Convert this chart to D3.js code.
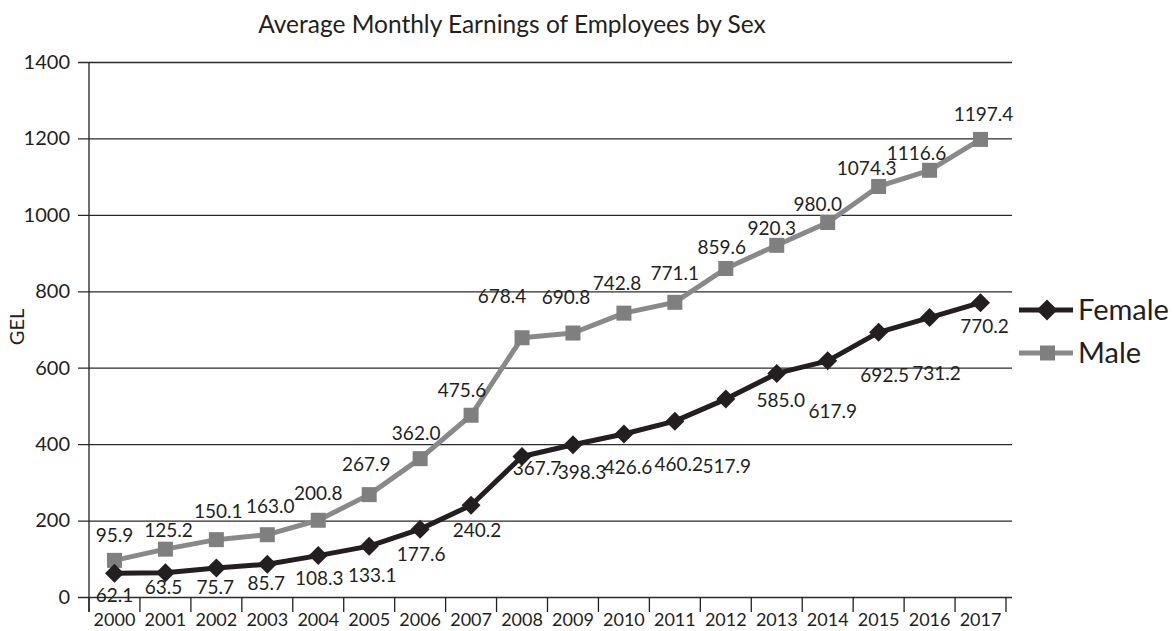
<!DOCTYPE html>
<html>
<head>
<meta charset="utf-8">
<script src="https://cdn.jsdelivr.net/npm/d3@7"></script>
<style>
  html, body { margin: 0; padding: 0; background: #fff; }
  svg text { font-family: Lato, "Open Sans", sans-serif; fill: #231f20; }
</style>
</head>
<body>
<svg id="chart" width="1174" height="631"></svg>
<script>
// Average monthly earnings (GEL), 2000–2017
const years = ["2000","2001","2002","2003","2004","2005","2006","2007","2008",
               "2009","2010","2011","2012","2013","2014","2015","2016","2017"];
const female = [62.1, 63.5, 75.7, 85.7, 108.3, 133.1, 177.6, 240.2, 367.7,
                398.3, 426.6, 460.2, 517.9, 585.0, 617.9, 692.5, 731.2, 770.2];
const male = [95.9, 125.2, 150.1, 163.0, 200.8, 267.9, 362.0, 475.6, 678.4,
              690.8, 742.8, 771.1, 859.6, 920.3, 980.0, 1074.3, 1116.6, 1197.4];
const yTicks = [0, 200, 400, 600, 800, 1000, 1200, 1400];
const seriesNames = ["Female", "Male"];
const titleText = "Average Monthly Earnings of Employees by Sex";
const yAxisTitle = "GEL";

// value-label nudges (px) relative to each marker
const femaleLabelShift = [[0,22],[-2,15],[-1,19],[-1,19],[1,23],[3,29],[1,25],[6,25],[15,12],
  [9,28],[4,33],[4,43],[1,67],[4,27],[5,50],[6,43],[7,56],[4,24]];
const maleLabelShift = [[0,-25],[3,-19],[2,-28],[3,-28],[0,-27],[-3,-30],[-4,-25],[-9,-25],[-20,-41],
  [-7,-36],[-7,-30],[0,-29],[-4,-21],[-5,-17],[-10,-18],[-12,-18],[-13,-17],[3,-25]];

const svg = d3.select("#chart");
const plotLeft = 89, plotRight = 1006, plotTop = 62, plotBottom = 597;
const gridEnd = 1012;

const x = d3.scaleBand().domain(years).range([plotLeft, plotRight]);
const y = d3.scaleLinear().domain([0, 1400]).range([plotBottom, plotTop]);
const cx = d => x(d) + x.bandwidth() / 2;

// square rotated 45°, r = half-diagonal
const diamondPath = r => `M0,${-r}L${r},0L0,${r}L${-r},0Z`;

// title
svg.append("text")
  .attr("x", 512).attr("y", 24).attr("dy", "0.35em")
  .attr("text-anchor", "middle")
  .style("font-size", "24.5px")
  .text(titleText);

// y axis + horizontal gridlines
const yAxis = svg.append("g")
  .attr("transform", `translate(${plotLeft},0)`)
  .call(d3.axisLeft(y).tickValues(yTicks).tickFormat(d3.format("d")).tickSizeOuter(0));
yAxis.select(".domain").remove();
yAxis.selectAll(".tick line")
  .attr("x1", -11).attr("x2", gridEnd - plotLeft)
  .attr("stroke", "#2b2b2b").attr("stroke-width", 1.3);
yAxis.selectAll(".tick text")
  .attr("x", -19)
  .style("font-size", "20px").style("font-family", "Lato, sans-serif")
  .attr("fill", "#231f20");

// vertical axis line
svg.append("line")
  .attr("x1", plotLeft).attr("x2", plotLeft)
  .attr("y1", y(1400)).attr("y2", plotBottom + 15)
  .attr("stroke", "#231f20").attr("stroke-width", 1.3);

// x axis labels
const xAxis = svg.append("g")
  .attr("transform", `translate(0,${plotBottom})`)
  .call(d3.axisBottom(x).tickSize(0).tickPadding(16));
xAxis.select(".domain").remove();
xAxis.selectAll(".tick text")
  .style("font-size", "18px").style("font-family", "Lato, sans-serif")
  .attr("fill", "#231f20");

// category boundary ticks
const bounds = years.map(d => x(d)).concat([x(years[years.length - 1]) + x.step()]);
svg.append("g").selectAll("line").data(bounds).join("line")
  .attr("x1", d => d).attr("x2", d => d)
  .attr("y1", plotBottom).attr("y2", plotBottom + 15)
  .attr("stroke", "#231f20").attr("stroke-width", 1.3);

// y axis title
svg.append("text")
  .attr("transform", "translate(17,327) rotate(-90)")
  .attr("text-anchor", "middle").attr("dy", "0.35em")
  .style("font-size", "20px")
  .text(yAxisTitle);

const line = d3.line().x((d, i) => cx(years[i])).y(d => y(d));

// Male series
svg.append("path").datum(male)
  .attr("d", line).attr("fill", "none")
  .attr("stroke", "#898989").attr("stroke-width", 5).attr("stroke-linejoin", "round");
svg.append("g").selectAll("rect").data(male).join("rect")
  .attr("x", (d, i) => cx(years[i]) - 7.5).attr("y", d => y(d) - 7.5)
  .attr("width", 15).attr("height", 15)
  .attr("fill", "#7f7f7f");

// Female series
svg.append("path").datum(female)
  .attr("d", line).attr("fill", "none")
  .attr("stroke", "#231f20").attr("stroke-width", 5).attr("stroke-linejoin", "round");
svg.append("g").selectAll("path").data(female).join("path")
  .attr("d", diamondPath(9.5))
  .attr("transform", (d, i) => `translate(${cx(years[i])},${y(d)})`)
  .attr("fill", "#231f20");

// value labels
svg.append("g").selectAll("text").data(male).join("text")
  .attr("x", (d, i) => cx(years[i]) + maleLabelShift[i][0])
  .attr("y", (d, i) => y(d) + maleLabelShift[i][1])
  .attr("dy", "0.35em").attr("text-anchor", "middle")
  .style("font-size", "19px")
  .text(d => d.toFixed(1));
svg.append("g").selectAll("text").data(female).join("text")
  .attr("x", (d, i) => cx(years[i]) + femaleLabelShift[i][0])
  .attr("y", (d, i) => y(d) + femaleLabelShift[i][1])
  .attr("dy", "0.35em").attr("text-anchor", "middle")
  .style("font-size", "19px")
  .text(d => d.toFixed(1));

// legend
const legend = svg.append("g");
const legendRows = [
  { name: seriesNames[0], y: 310, color: "#231f20", marker: "diamond" },
  { name: seriesNames[1], y: 353, color: "#898989", marker: "square" }
];
legendRows.forEach(r => {
  legend.append("line")
    .attr("x1", 1019).attr("x2", 1073).attr("y1", r.y).attr("y2", r.y)
    .attr("stroke", r.color).attr("stroke-width", 5);
  if (r.marker === "diamond") {
    legend.append("path")
      .attr("d", diamondPath(10.5))
      .attr("transform", `translate(1047,${r.y})`).attr("fill", r.color);
  } else {
    legend.append("rect")
      .attr("x", 1040).attr("y", r.y - 7.5).attr("width", 15).attr("height", 15)
      .attr("fill", "#7f7f7f");
  }
  legend.append("text")
    .attr("x", 1078).attr("y", r.y).attr("dy", "0.35em")
    .style("font-size", "29px")
    .text(r.name);
});
</script>
</body>
</html>
